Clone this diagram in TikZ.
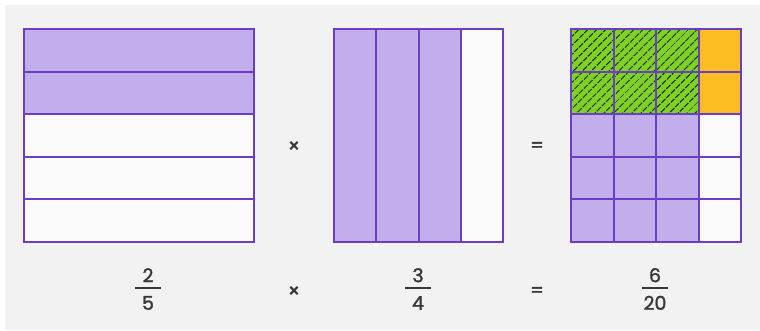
\documentclass[tikz,border=0pt]{standalone}
\usepackage{fontspec}
\setmainfont{Poppins}
\newfontfamily\digitfont{Poppins}[FakeBold=1.6]
\usetikzlibrary{patterns.meta}
\definecolor{lilac}{HTML}{C1AEEB}
\definecolor{grape}{HTML}{6A3EC6}
\definecolor{lime}{HTML}{7ED321}
\definecolor{amber}{HTML}{FBBD22}
\definecolor{ink}{HTML}{383838}
\definecolor{paper}{HTML}{F2F2F2}
\newcommand{\fracstack}[2]{\setlength{\arrayrulewidth}{1.6pt}%
  \renewcommand{\arraystretch}{1}%
  \begin{tabular}{@{}c@{}}\makebox[26pt]{#1}\\[-1pt]\hline\rule{0pt}{21pt}#2\end{tabular}}

\begin{document}
\begin{tikzpicture}[
  x=1pt,y=-1pt,
  grid/.style={draw=grape,line width=2pt,line cap=rect},
  shade/.style={fill=lilac},
  blank/.style={fill=paper!40!white},
  hatch/.style={fill=lime,postaction={pattern={Lines[angle=45,distance=6.5pt,line width=1.3pt]},pattern color=black!85}},
  extra/.style={fill=amber},
  sym/.style={text=ink,font=\digitfont\fontsize{19}{20}\selectfont},
  frac/.style={text=ink,font=\digitfont\fontsize{19}{20}\selectfont,inner sep=0pt}
]
  \useasboundingbox (0,0) rectangle (760,330);
  \fill[paper] (5,5) rectangle (760,330);

  % first factor: 2 of 5 rows
  \foreach \r in {0,...,4}{
    \pgfmathsetmacro{\ya}{29+\r*42.6}
    \pgfmathsetmacro{\yb}{29+(\r+1)*42.6}
    \ifnum\r<2 \def\kind{shade}\else \def\kind{blank}\fi
    \path[\kind] (24,\ya) rectangle (254,\yb);
    \draw[grid] (24,\ya) -- (254,\ya);
  }
  \draw[grid] (24,29) rectangle (254,242);

  % second factor: 3 of 4 columns
  \foreach \c in {0,...,3}{
    \pgfmathsetmacro{\xa}{334+\c*42.25}
    \pgfmathsetmacro{\xb}{334+(\c+1)*42.25}
    \ifnum\c<3 \def\kind{shade}\else \def\kind{blank}\fi
    \path[\kind] (\xa,29) rectangle (\xb,242);
    \draw[grid] (\xa,29) -- (\xa,242);
  }
  \draw[grid] (334,29) rectangle (503,242);

  % product grid
  \foreach \c in {0,...,3}{
    \foreach \r in {0,...,4}{
      \pgfmathsetmacro{\xa}{571+\c*42.5}
      \pgfmathsetmacro{\xb}{571+(\c+1)*42.5}
      \pgfmathsetmacro{\ya}{29+\r*42.6}
      \pgfmathsetmacro{\yb}{29+(\r+1)*42.6}
      \ifnum\r<2
        \ifnum\c<3 \def\kind{hatch}\else \def\kind{extra}\fi
      \else
        \ifnum\c<3 \def\kind{shade}\else \def\kind{blank}\fi
      \fi
      \path[\kind] (\xa,\ya) rectangle (\xb,\yb);
    }
  }
  \foreach \c in {1,2,3}
    \draw[grid] (571+\c*42.5,29) -- (571+\c*42.5,242);
  \foreach \r in {1,...,4}
    \draw[grid] (571,29+\r*42.6) -- (741,29+\r*42.6);
  \draw[grid] (571,29) rectangle (741,242);

  \node[sym] (times) at (294,147) {×};
  \node[sym] (equals) at (537,147) {=};

  \node[frac] (fracA) at (148,292) {\fracstack{2}{5}};
  \node[frac] (fracB) at (418,292) {\fracstack{3}{4}};
  \node[frac] (fracC) at (655,292) {\fracstack{6}{20}};
  \node[sym] (timesB) at (294,292) {×};
  \node[sym] (equalsB) at (537,292) {=};
\end{tikzpicture}
\end{document}
